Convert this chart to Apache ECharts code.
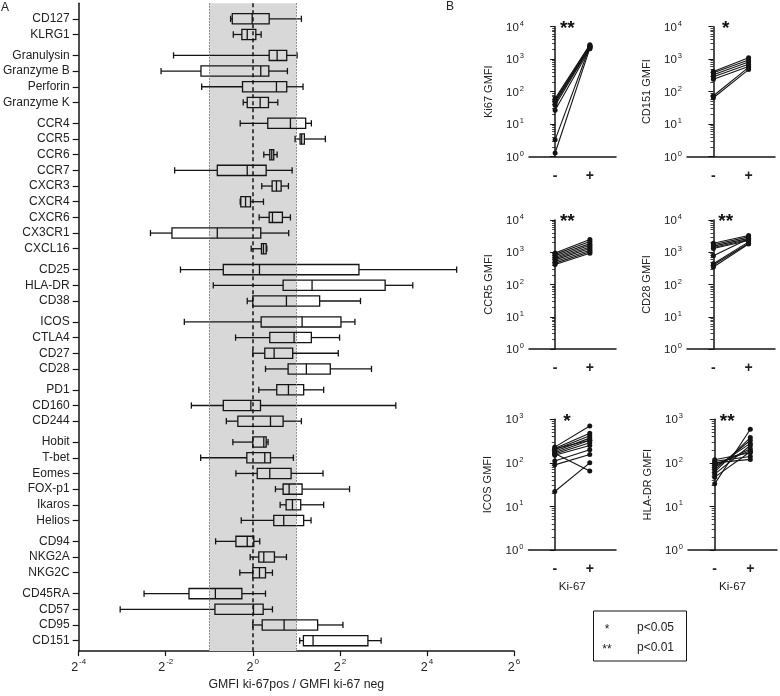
<!DOCTYPE html>
<html><head><meta charset="utf-8">
<script src="https://cdn.jsdelivr.net/npm/echarts@6/dist/echarts.min.js"></script>
<style>html,body{margin:0;padding:0;background:#fff}#c{width:780px;height:696px}</style>
</head><body><div id="c"></div>
<script>
// ---------- Panel A data ----------
const markers = ['CD127','KLRG1','Granulysin','Granzyme B','Perforin','Granzyme K','CCR4','CCR5','CCR6','CCR7','CXCR3','CXCR4','CXCR6','CX3CR1','CXCL16','CD25','HLA-DR','CD38','ICOS','CTLA4','CD27','CD28','PD1','CD160','CD244','Hobit','T-bet','Eomes','FOX-p1','Ikaros','Helios','CD94','NKG2A','NKG2C','CD45RA','CD57','CD95','CD151'];
const markerGroups = [0,0,1,1,1,1,2,2,2,2,2,2,2,2,2,3,3,3,4,4,4,4,5,5,5,6,6,6,6,6,6,7,7,7,8,8,8,8];
const boxMin    = [0.702,0.733,0.283,0.232,0.443,0.858,0.818,1.960,1.191,0.288,1.153,0.818,1.106,0.196,0.975,0.316,0.533,0.915,0.336,0.760,1.000,1.224,1.100,0.376,0.656,0.728,0.436,0.764,1.434,1.545,0.832,0.553,0.959,0.813,0.177,0.121,1.000,2.110];
const boxQ1     = [0.721,0.840,1.298,0.438,0.849,0.915,1.269,2.123,1.310,0.568,1.360,0.826,1.298,0.276,1.148,0.625,1.620,1.000,1.142,1.310,1.210,1.754,1.464,0.625,0.788,1.000,0.909,1.073,1.620,1.699,1.396,0.764,1.100,1.000,0.362,0.547,1.161,2.238];
const boxMedian = [0.990,0.915,1.473,1.135,1.457,1.124,1.820,2.178,1.352,0.915,1.457,0.891,1.367,0.568,1.185,1.112,2.569,1.708,2.192,1.929,1.404,2.346,1.763,0.969,1.325,1.191,1.210,1.310,1.783,1.879,1.636,0.915,1.191,1.112,0.551,1.011,1.646,2.610];
const boxQ3     = [1.298,1.049,1.716,1.290,1.716,1.283,2.320,2.272,1.396,1.237,1.570,0.964,1.602,1.135,1.237,5.419,8.225,2.898,4.070,2.540,1.887,3.434,2.247,1.130,1.620,1.237,1.325,1.840,2.192,2.144,2.247,1.016,1.411,1.224,0.840,1.179,2.807,6.250];
const boxMax    = [2.168,1.142,2.024,1.735,2.225,1.488,2.540,3.174,1.473,1.870,1.763,1.185,1.820,1.771,1.250,25.69,12.77,5.556,5.084,3.981,3.899,6.617,3.089,9.747,2.168,1.275,1.908,3.059,4.666,3.089,2.528,1.117,1.708,1.367,1.224,1.367,4.201,7.717];
const shadeRange = [0.5, 2];
const refLine = 1;

// ---------- Panel B data ----------
const ki67Neg  = [62, 55, 50, 45, 38, 27, 3.3, 1.3];
const ki67Pos  = [2800, 2600, 2500, 2400, 2300, 2100, 2500, 2200];
const cd151Neg = [420, 380, 330, 290, 240, 75, 65];
const cd151Pos = [1100, 950, 820, 700, 600, 560, 480];
const ccr5Neg  = [950, 860, 780, 700, 640, 580, 520, 460, 420];
const ccr5Pos  = [2500, 2150, 1850, 1650, 1450, 1300, 1150, 1030, 930];
const cd28Neg  = [1900, 1700, 1550, 1400, 1300, 780, 440, 400, 350];
const cd28Pos  = [3300, 3000, 2700, 2500, 2300, 2600, 2100, 1900, 1800];
const icosNeg  = [230, 215, 200, 185, 170, 160, 150, 110, 90, 210, 165, 22];
const icosPos  = [700, 480, 420, 370, 330, 290, 250, 200, 155, 330, 65, 100];
const hladrNeg = [118, 108, 100, 92, 85, 78, 70, 62, 55, 47, 33];
const hladrPos = [170, 140, 120, 190, 210, 280, 330, 380, 250, 180, 590];
const groupLabels = ['-', '+'];
const legendRows = [['*', 'p<0.05'], ['**', 'p<0.01']];

const FONT = '"Liberation Sans", Arial, sans-serif';
const INK = '#141414';

// Build category slots (rows spaced by 3 slots, group gaps by 4)
const slotLabels = ['', '', ''];
const rowSlot = [];
markers.forEach((m, i) => {
  if (i > 0) {
    const step = markerGroups[i] !== markerGroups[i - 1] ? 4 : 3;
    for (let k = 1; k < step; k++) slotLabels.push('');
  }
  rowSlot.push(slotLabels.length);
  slotLabels.push(m);
});
slotLabels.push('', '');
const slotH = 629 / 119;

const boxData = markers.map((m, i) => [rowSlot[i], boxMin[i], boxQ1[i], boxMedian[i], boxQ3[i], boxMax[i]]);

const panelB = [
  {name: 'Ki67 GMFI',  neg: ki67Neg,  pos: ki67Pos,  sig: '**', max: 1e4, grid: {left: 529, top: 26.7, width: 87, height: 130}},
  {name: 'CD151 GMFI', neg: cd151Neg, pos: cd151Pos, sig: '*',  max: 1e4, grid: {left: 687, top: 26.7, width: 88, height: 130}},
  {name: 'CCR5 GMFI',  neg: ccr5Neg,  pos: ccr5Pos,  sig: '**', max: 1e4, grid: {left: 529, top: 220, width: 87, height: 129}},
  {name: 'CD28 GMFI',  neg: cd28Neg,  pos: cd28Pos,  sig: '**', max: 1e4, grid: {left: 687, top: 220, width: 88, height: 129}},
  {name: 'ICOS GMFI',  neg: icosNeg,  pos: icosPos,  sig: '*',  max: 1e3, grid: {left: 528.5, top: 419.3, width: 87.5, height: 130.7}, xname: 'Ki-67'},
  {name: 'HLA-DR GMFI',neg: hladrNeg, pos: hladrPos, sig: '**', max: 1e3, grid: {left: 688, top: 419.3, width: 89, height: 130.7}, xname: 'Ki-67'}
];

const supRich = {
  b: {fontSize: 12.5, fontFamily: FONT, color: '#222', lineHeight: 16, verticalAlign: 'bottom'},
  s: {fontSize: 8, fontFamily: FONT, color: '#222', lineHeight: 16, verticalAlign: 'top', padding: [0, 0, 0, 1]}
};
const supRichB = {
  b: {fontSize: 11.5, fontFamily: FONT, color: '#222', lineHeight: 14, verticalAlign: 'bottom'},
  s: {fontSize: 7.5, fontFamily: FONT, color: '#222', lineHeight: 14, verticalAlign: 'top', padding: [0, 0, 0, 1]}
};

const grids = [{left: 78, top: 19 - 3 * slotH, width: 436, height: 124 * slotH}];
const xAxes = [{
  type: 'log', logBase: 2, min: 1 / 16, max: 64, interval: 2, gridIndex: 0,
  axisLine: {show: true, onZero: false, lineStyle: {color: INK, width: 1.5}},
  axisTick: {show: true, length: 5, lineStyle: {color: INK, width: 1.2}},
  splitLine: {show: false}, minorTick: {show: false},
  axisLabel: {formatter: v => '{b|2}{s|' + Math.round(Math.log2(v)) + '}', rich: supRich, margin: 7},
  name: 'GMFI ki-67pos / GMFI ki-67 neg', nameLocation: 'middle', nameGap: 23,
  nameTextStyle: {fontSize: 12.3, fontFamily: FONT, color: '#222'}
}];
const yAxes = [{
  type: 'category', gridIndex: 0, data: slotLabels, inverse: true, boundaryGap: false,
  axisLine: {show: true, lineStyle: {color: INK, width: 1.5}},
  axisTick: {show: true, interval: (i, v) => v !== '', length: 6, lineStyle: {color: INK, width: 1.2}},
  axisLabel: {interval: (i, v) => v !== '', fontSize: 12, fontFamily: FONT, color: '#222', margin: 9},
  splitLine: {show: false}
}];

const series = [{
  type: 'custom', xAxisIndex: 0, yAxisIndex: 0, data: boxData, silent: true, z: 3,
  encode: {x: [1, 2, 3, 4, 5], y: 0},
  renderItem(params, api) {
    const y = api.value(0);
    const p = [1, 2, 3, 4, 5].map(d => api.coord([api.value(d), y]));
    const h = Math.abs(api.coord([1, y + 1])[1] - api.coord([1, y])[1]);
    const bh = h * 0.98, ch = h * 0.6;
    const st = {stroke: INK, lineWidth: 1.3, fill: null};
    const cy = p[0][1];
    return {type: 'group', children: [
      {type: 'line', shape: {x1: p[0][0], y1: cy, x2: p[1][0], y2: cy}, style: st},
      {type: 'line', shape: {x1: p[3][0], y1: cy, x2: p[4][0], y2: cy}, style: st},
      {type: 'line', shape: {x1: p[0][0], y1: cy - ch, x2: p[0][0], y2: cy + ch}, style: st},
      {type: 'line', shape: {x1: p[4][0], y1: cy - ch, x2: p[4][0], y2: cy + ch}, style: st},
      {type: 'rect', shape: {x: p[1][0], y: cy - bh, width: p[3][0] - p[1][0], height: 2 * bh}, style: st},
      {type: 'line', shape: {x1: p[2][0], y1: cy - bh, x2: p[2][0], y2: cy + bh}, style: st}
    ]};
  },
  markArea: {silent: true, itemStyle: {color: '#d8d8d8'}, data: [[{xAxis: shadeRange[0]}, {xAxis: shadeRange[1]}]]},
  markLine: {silent: true, symbol: 'none', label: {show: false},
    data: [
      {xAxis: shadeRange[0], lineStyle: {type: [1.5, 1.5], color: '#777', width: 1}},
      {xAxis: shadeRange[1], lineStyle: {type: [1.5, 1.5], color: '#777', width: 1}},
      {xAxis: refLine, lineStyle: {type: [4, 3], color: INK, width: 1.5}}
    ]}
}];

const graphics = [
  {type: 'text', x: 1, y: 2, style: {text: 'A', font: '12px ' + FONT, fill: '#222'}},
  {type: 'text', x: 446, y: 1, style: {text: 'B', font: '12px ' + FONT, fill: '#222'}}
];

panelB.forEach((p, k) => {
  const gi = k + 1;
  grids.push(p.grid);
  xAxes.push({
    type: 'value', gridIndex: gi, min: -0.75, max: 1.75, interval: 0.25,
    axisLine: {show: true, onZero: false, lineStyle: {color: INK, width: 1.5}},
    axisTick: {show: false}, splitLine: {show: false},
    axisLabel: {formatter: v => (Math.abs(v) < 1e-9 ? groupLabels[0] : Math.abs(v - 1) < 1e-9 ? groupLabels[1] : ''),
      fontSize: 14, fontWeight: 'bold', fontFamily: FONT, color: '#222', margin: 12},
    name: p.xname || '', nameLocation: 'middle', nameGap: 31,
    nameTextStyle: {fontSize: 11.5, fontFamily: FONT, color: '#222'}
  });
  yAxes.push({
    type: 'log', logBase: 10, min: 1, max: p.max, interval: 1, gridIndex: gi,
    axisLine: {show: true, lineStyle: {color: INK, width: 1.5}},
    axisTick: {show: true, length: 5, lineStyle: {color: INK, width: 1}},
    minorTick: {show: true, splitNumber: 9, length: 3, lineStyle: {color: INK, width: 0.8}},
    splitLine: {show: false}, minorSplitLine: {show: false},
    axisLabel: {formatter: v => '{b|10}{s|' + Math.round(Math.log10(v)) + '}', rich: supRichB, margin: 5},
    name: p.name, nameLocation: 'middle', nameGap: 35, nameRotate: 90,
    nameTextStyle: {fontSize: 11, fontFamily: FONT, color: '#222'}
  });
  p.neg.forEach((v, i) => {
    series.push({type: 'line', xAxisIndex: gi, yAxisIndex: gi, data: [[0, v], [1, p.pos[i]]],
      symbol: 'circle', symbolSize: 5, showSymbol: true, silent: true, z: 3,
      lineStyle: {color: INK, width: 1.1}, itemStyle: {color: INK}});
  });
  graphics.push({type: 'text', x: p.grid.left + p.grid.width * 0.44, y: p.grid.top + 2,
    style: {text: p.sig, font: 'bold 19px ' + FONT, fill: '#111', align: 'center', verticalAlign: 'middle'}});
});

// legend box
graphics.push({type: 'rect', shape: {x: 593.5, y: 611, width: 93, height: 50}, style: {fill: '#fff', stroke: INK, lineWidth: 1}});
legendRows.forEach((r, i) => {
  graphics.push({type: 'text', x: 607, y: 630 + i * 20, style: {text: r[0], font: '12px ' + FONT, fill: '#222', align: 'center', verticalAlign: 'middle'}});
  graphics.push({type: 'text', x: 637, y: 628 + i * 20, style: {text: r[1], font: '12px ' + FONT, fill: '#222', align: 'left', verticalAlign: 'middle'}});
});

const chart = echarts.init(document.getElementById('c'));
chart.setOption({
  animation: false,
  backgroundColor: '#fff',
  grid: grids, xAxis: xAxes, yAxis: yAxes, series, graphic: graphics
});
</script></body></html>
